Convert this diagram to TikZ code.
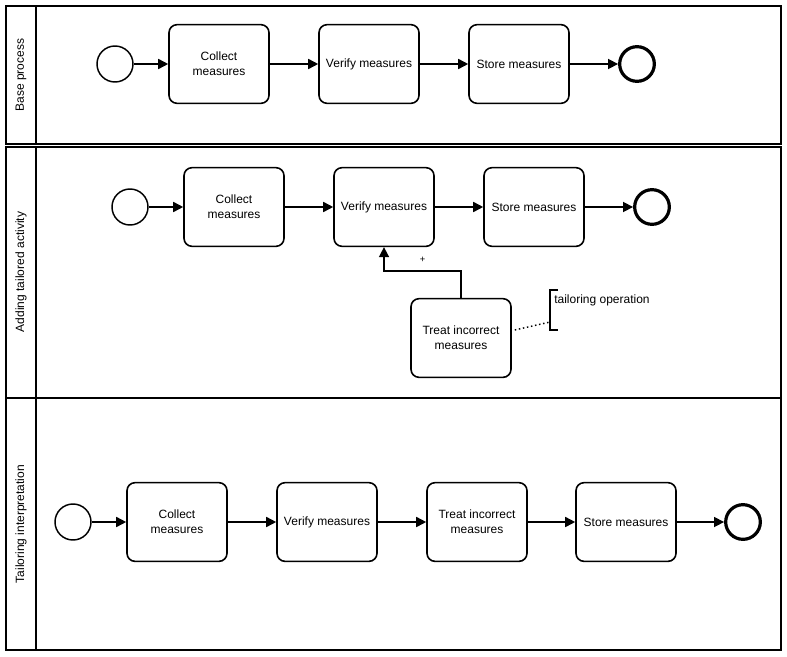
\documentclass[tikz,border=0pt]{standalone}
\usepackage{fontspec}
\setmainfont{Liberation Sans}
\usetikzlibrary{arrows.meta, positioning}

\tikzset{
  pool/.style={draw, line width=1.5pt},
  task/.style={draw, line width=1.2pt, rounded corners=6pt, minimum width=75pt,
    minimum height=59pt, align=center, font=\fontsize{9}{11}\selectfont},
  startev/.style={draw, circle, line width=1.1pt, minimum size=27pt, inner sep=0pt},
  endev/.style={draw, circle, line width=2.4pt, minimum size=26pt, inner sep=0pt},
  flow/.style={line width=1.2pt, -{Triangle[length=7.5pt, width=7.5pt]}},
  lanelabel/.style={rotate=90, font=\fontsize{9}{11}\selectfont}
}

\begin{document}
\begin{tikzpicture}[x=0.75pt, y=-0.75pt]
    \useasboundingbox (0,0) rectangle (787,656);

    % Pools
    \draw[pool] (6,6) rectangle (781,144);
    \draw[pool] (36,6) -- (36,144);
    \draw[pool] (6,147) rectangle (781,398);
    \draw[pool] (36,147) -- (36,398);
    \draw[pool] (6,398) rectangle (781,650);
    \draw[pool] (36,398) -- (36,650);

    \node[lanelabel] (lane1) at (21,75) {Base process};
    \node[lanelabel] (lane2) at (21,272) {Adding tailored activity};
    \node[lanelabel] (lane3) at (21,524) {Tailoring interpretation};

    % Base process
    \node[startev] (start1) at (115,64) {};
    \node[task] (collect1) at (219,64) {Collect\\measures};
    \node[task] (verify1) at (369,64) {Verify measures};
    \node[task] (store1) at (519,64) {Store measures};
    \node[endev] (end1) at (637,64) {};

    \draw[flow] (start1) -- (collect1);
    \draw[flow] (collect1) -- (verify1);
    \draw[flow] (verify1) -- (store1);
    \draw[flow] (store1) -- (end1);

    % Adding tailored activity
    \node[startev] (start2) at (130,207) {};
    \node[task] (collect2) at (234,207) {Collect\\measures};
    \node[task] (verify2) at (384,207) {Verify measures};
    \node[task] (store2) at (534,207) {Store measures};
    \node[endev] (end2) at (652,207) {};
    \node[task] (treat2) at (461,338) {Treat incorrect\\measures};

    \draw[flow] (start2) -- (collect2);
    \draw[flow] (collect2) -- (verify2);
    \draw[flow] (verify2) -- (store2);
    \draw[flow] (store2) -- (end2);
    \draw[flow] (treat2.north) -- ++(0,-27) -| node[pos=0.25, above=2pt, font=\fontsize{7}{8}\selectfont] {+} (verify2.south);

    % Annotation
    \coordinate (note) at (550,322);
    \draw[line width=1.2pt] (558,290) -- (550,290) -- (550,330) -- (558,330);
    \node[anchor=west, inner sep=0pt, font=\fontsize{9}{11}\selectfont] (notetext) at (554,300) {tailoring operation};
    \draw[line width=1.1pt, dotted] ([shift={(3,-8)}]treat2.east) -- (note);

    % Tailoring interpretation
    \node[startev] (start3) at (73,522) {};
    \node[task] (collect3) at (177,522) {Collect\\measures};
    \node[task] (verify3) at (327,522) {Verify measures};
    \node[task] (treat3) at (477,522) {Treat incorrect\\measures};
    \node[task] (store3) at (626,522) {Store measures};
    \node[endev] (end3) at (743,522) {};

    \draw[flow] (start3) -- (collect3);
    \draw[flow] (collect3) -- (verify3);
    \draw[flow] (verify3) -- (treat3);
    \draw[flow] (treat3) -- (store3);
    \draw[flow] (store3) -- (end3);
\end{tikzpicture}
\end{document}
